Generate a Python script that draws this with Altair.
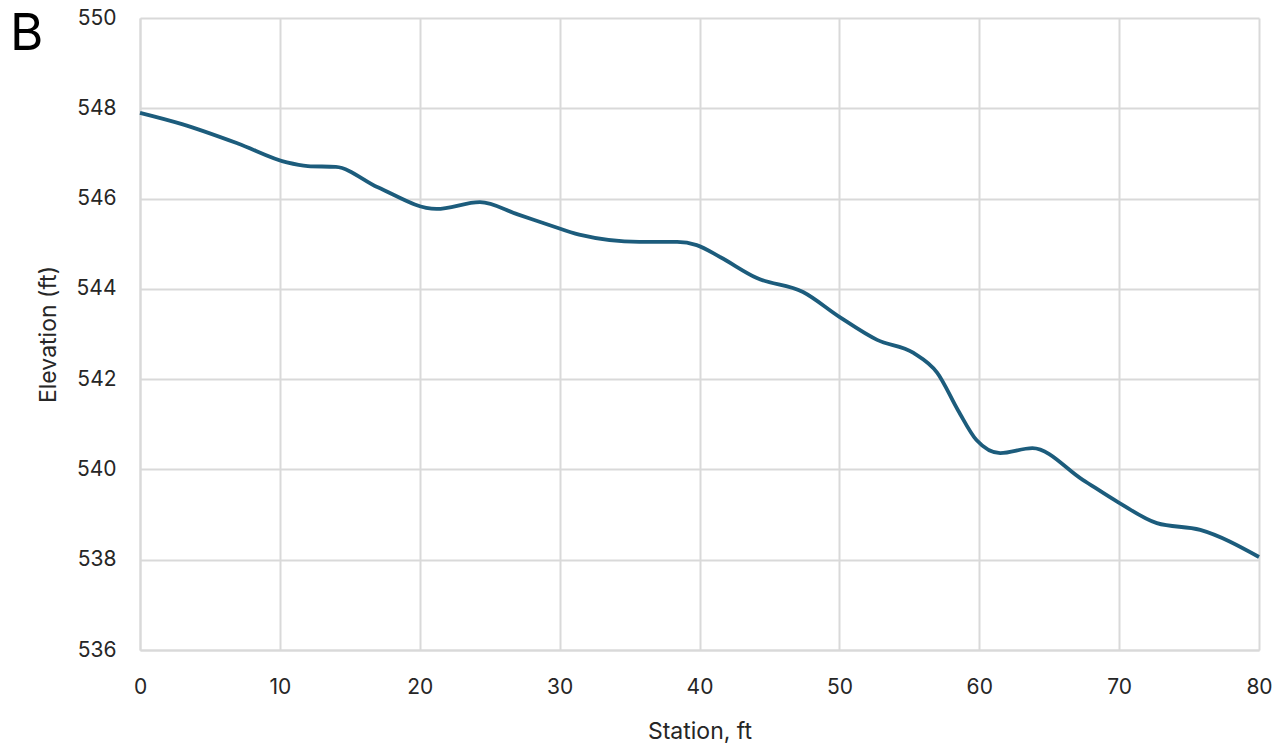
import altair as alt
import pandas as pd

station = [0, 3, 7, 10.5, 12, 14, 17, 21.2, 24.3, 27, 29.3, 31.4, 35.7, 38.4, 39.8,
           41.5, 44.1, 47.4, 50, 52.7, 55.3, 57, 58.5, 59.8, 61.5, 63.8, 67.4, 70,
           72.7, 75.8, 80]
elevation = [547.9, 547.65, 547.22, 546.8, 546.72, 546.7, 546.25, 545.77, 545.92,
             545.65, 545.41, 545.2, 545.04, 545.04, 544.97, 544.7, 544.24, 543.93,
             543.38, 542.87, 542.58, 542.14, 541.3, 540.65, 540.36, 540.47, 539.77,
             539.26, 538.81, 538.66, 538.06]
x_ticks = [0, 10, 20, 30, 40, 50, 60, 70, 80]
y_ticks = [536, 538, 540, 542, 544, 546, 548, 550]
panel_label = ["B"]

df = pd.DataFrame({"station": station, "elevation": elevation})
FONT = "Inter"

line = alt.Chart(df).mark_line(
    color="#1c5c7c", strokeWidth=3.8, interpolate="monotone"
).encode(
    x=alt.X("station:Q",
            scale=alt.Scale(domain=[0, 80], nice=False),
            axis=alt.Axis(values=x_ticks, title="Station, ft", labelPadding=26,
                          titlePadding=23, labelFlush=False)),
    y=alt.Y("elevation:Q",
            scale=alt.Scale(domain=[536, 550], nice=False, zero=False),
            axis=alt.Axis(values=y_ticks, title="Elevation (ft)", labelPadding=24,
                          titlePadding=16, labelFlush=False)),
)

label = alt.Chart(pd.DataFrame({"t": panel_label})).mark_text(
    fontSize=51, font=FONT, color="#000000", align="left", baseline="middle"
).encode(
    text="t:N", x=alt.value(-130), y=alt.value(17)
)

chart = (line + label).properties(
    width=1119, height=632,
    autosize=alt.AutoSizeParams(type="none"),
    padding={"left": 140, "top": 18, "right": 28, "bottom": 97},
).configure_view(
    stroke=None
).configure_axis(
    grid=True, gridColor="#d9d9d9", gridWidth=2,
    domainColor="#d9d9d9", domainWidth=2,
    ticks=False,
    labelFont=FONT, labelFontSize=21, labelColor="#262626",
    titleFont=FONT, titleFontSize=23, titleColor="#262626", titleFontWeight="normal",
)

chart.save("out.html", embed_options={"renderer": "svg", "actions": False})
